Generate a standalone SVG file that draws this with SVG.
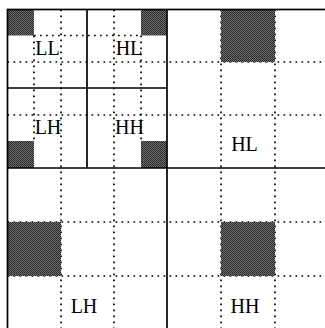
<svg xmlns="http://www.w3.org/2000/svg" width="325" height="328" viewBox="0 0 325 328">
  <defs>
    <pattern id="halftone" width="2" height="2" patternUnits="userSpaceOnUse">
      <rect width="2" height="2" fill="#707070"/>
      <rect width="1" height="1" fill="#222"/>
      <rect x="1" y="1" width="1" height="1" fill="#2e2e2e"/>
    </pattern>
  </defs>
  <style>
    .dot { stroke: #000; stroke-width: 1.7; stroke-dasharray: 1.7 4.3; fill: none; }
    .solid { stroke: #000; stroke-width: 1.7; fill: none; }
    .dark { fill: url(#halftone); }
    .lbl { font-family: "Liberation Serif", "Times New Roman", serif; font-size: 20px; fill: #000; text-anchor: middle; }
  </style>
  <rect width="325" height="328" fill="#fff"/>

  <g id="connectors">
    <g id="dotted-grid">
      <line class="dot" x1="34" y1="35.5" x2="34" y2="141"/>
      <line class="dot" x1="61" y1="9.5" x2="61" y2="328"/>
      <line class="dot" x1="114" y1="9.5" x2="114" y2="328"/>
      <line class="dot" x1="141" y1="35.5" x2="141" y2="141"/>
      <line class="dot" x1="221" y1="9.5" x2="221" y2="328"/>
      <line class="dot" x1="275" y1="9.5" x2="275" y2="328"/>
      <line class="dot" x1="34" y1="35.5" x2="141" y2="35.5"/>
      <line class="dot" x1="7.5" y1="62" x2="325" y2="62"/>
      <line class="dot" x1="7.5" y1="115" x2="325" y2="115"/>
      <line class="dot" x1="7.5" y1="222" x2="325" y2="222"/>
      <line class="dot" x1="7.5" y1="276" x2="325" y2="276"/>
    </g>
  </g>

  <g id="dark-blocks">
    <rect class="dark" x="7.5" y="9.5" width="26.5" height="26"/>
    <rect class="dark" x="141" y="9.5" width="26" height="26"/>
    <rect class="dark" x="7.5" y="141" width="26.5" height="27"/>
    <rect class="dark" x="141" y="141" width="26" height="27"/>
    <rect class="dark" x="221" y="9.5" width="54" height="52.5"/>
    <rect class="dark" x="7.5" y="222" width="53.5" height="54"/>
    <rect class="dark" x="221" y="222" width="54" height="54"/>
  </g>

  <g id="frame">
    <rect class="solid" x="7.5" y="9.5" width="320" height="320"/>
    <line class="solid" x1="167" y1="9.5" x2="167" y2="328"/>
    <line class="solid" x1="7.5" y1="168" x2="325" y2="168"/>
    <line class="solid" x1="87" y1="9.5" x2="87" y2="168"/>
    <line class="solid" x1="7.5" y1="88" x2="167" y2="88"/>
  </g>

  <g id="node-LL"><text class="lbl" x="47.5" y="55">LL</text></g>
  <g id="node-HL-sub"><text class="lbl" x="129" y="55">HL</text></g>
  <g id="node-LH-sub"><text class="lbl" x="48" y="133.5">LH</text></g>
  <g id="node-HH-sub"><text class="lbl" x="129.5" y="133.5">HH</text></g>
  <g id="node-HL"><text class="lbl" x="244.5" y="151">HL</text></g>
  <g id="node-LH"><text class="lbl" x="84" y="312.5">LH</text></g>
  <g id="node-HH"><text class="lbl" x="245" y="312.5">HH</text></g>
</svg>
